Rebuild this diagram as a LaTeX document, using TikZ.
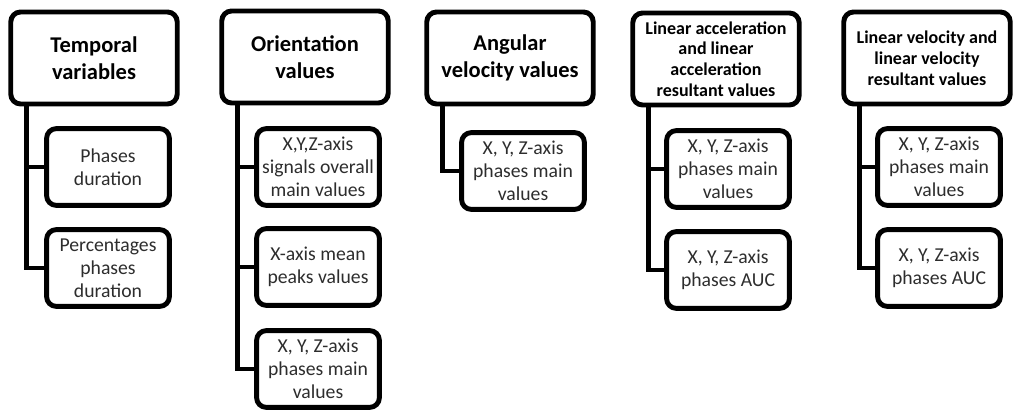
\documentclass[tikz,border=0pt]{standalone}
\usepackage{fontspec}
\setmainfont{Carlito}
\definecolor{txtgrey}{RGB}{45,45,45}

\tikzset{
  topbox/.style={draw, line width=3.5pt, rounded corners=7pt, fill=white,
    minimum width=4.16cm, minimum height=2.3cm, inner sep=1pt, align=center,
    font=\fontsize{16}{19.5}\selectfont\bfseries},
  smalltop/.style={font=\fontsize{12.8}{14.8}\selectfont\bfseries},
  subbox/.style={draw, line width=3.5pt, rounded corners=7pt, fill=white,
    minimum width=3.07cm, minimum height=1.92cm, inner sep=1pt, align=center,
    text=txtgrey, font=\fontsize{14}{16.2}\selectfont},
  conn/.style={line width=3.5pt}
}

\begin{document}
\begin{tikzpicture}[x=0.025cm, y=-0.025cm]
  \useasboundingbox (0,0) rectangle (1014,411);

  % top row
  \node[topbox] (temp) at (94,58) {Temporal\\variables};
  \node[topbox] (orient) at (305,57) {Orientation\\values};
  \node[topbox] (angvel) at (510,58) {Angular\\velocity values};
  \node[topbox, smalltop] (linacc) at (716,59) {Linear acceleration\\and linear\\acceleration\\resultant values};
  \node[topbox, smalltop] (linvel) at (927,58) {Linear velocity and\\linear velocity\\resultant values};

  % temporal
  \node[subbox] (tempa) at (108,167) {Phases\\duration};
  \node[subbox] (tempb) at (108,268) {Percentages\\phases\\duration};

  % orientation
  \node[subbox] (orienta) at (318,167) {X,Y,Z-axis\\signals overall\\main values};
  \node[subbox] (orientb) at (318,267) {X-axis mean\\peaks values};
  \node[subbox] (orientc) at (318,369) {X, Y, Z-axis\\phases main\\values};

  % angular velocity
  \node[subbox] (angvela) at (523,171) {X, Y, Z-axis\\phases main\\values};

  % linear acceleration
  \node[subbox] (linacca) at (728,169) {X, Y, Z-axis\\phases main\\values};
  \node[subbox] (linaccb) at (728,270) {X, Y, Z-axis\\phases AUC};

  % linear velocity
  \node[subbox] (linvela) at (939,167) {X, Y, Z-axis\\phases main\\values};
  \node[subbox] (linvelb) at (939,268) {X, Y, Z-axis\\phases AUC};

  % connectors
  \foreach \a/\b in {temp/tempa, temp/tempb, orient/orienta, orient/orientb, orient/orientc,
                     angvel/angvela, linacc/linacca, linacc/linaccb, linvel/linvela, linvel/linvelb}
    \draw[conn] ([xshift=0.45cm]\a.south west) |- (\b.west);
\end{tikzpicture}
\end{document}
